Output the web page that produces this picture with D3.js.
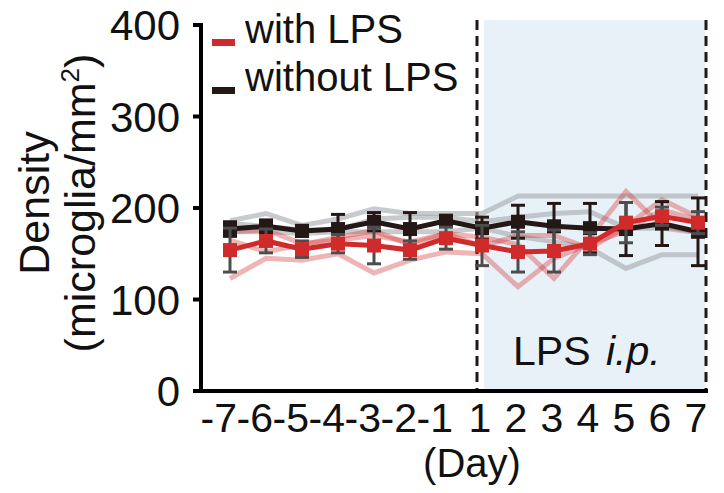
<!DOCTYPE html>
<html>
<head>
<meta charset="utf-8">
<script src="https://cdn.jsdelivr.net/npm/d3@7"></script>
<style>
  body { margin: 0; background: #fff; }
  text { font-family: "Liberation Sans", Arial, sans-serif; fill: #111; }
</style>
</head>
<body>
<script>
const WIDTH = 724
const HEIGHT = 493

// Data
const days = [-7, -6, -5, -4, -3, -2, -1, 1, 2, 3, 4, 5, 6, 7]
const yTicks = [0, 100, 200, 300, 400]

const withLPSMean = [154, 164, 155, 161, 159, 154, 167, 159, 152, 153, 161, 184, 191, 184]
const withLPSErr = [24, 13, 9, 10, 20, 10, 12, 22, 22, 23, 12, 22, 10, 12]
const withoutLPSMean = [177, 180, 175, 177, 185, 177, 186, 178, 185, 180, 178, 177, 183, 174]
const withoutLPSErr = [8, 7, 6, 16, 10, 18, 6, 12, 18, 25, 27, 29, 24, 37]

// individual animals
const withLPSA = [123, 145, 143, 150, 129, 143, 152, 150, 114, 145, 161, 175, 198, 187]
const withLPSB = [165, 152, 160, 168, 175, 160, 172, 168, 160, 123, 168, 218, 180, 174]
const withLPSC = [174, 176, 161, 165, 170, 163, 172, 158, 170, 170, 156, 180, 209, 190]
const withoutLPSA = [186, 194, 181, 188, 199, 194, 194, 194, 213, 213, 213, 213, 213, 213]
const withoutLPSB = [183, 180, 176, 176, 188, 190, 190, 185, 190, 194, 196, 178, 178, 173]
const withoutLPSC = [174, 174, 172, 174, 174, 174, 174, 178, 169, 163, 156, 134, 149, 149]

const RED = "#d12a2a"
const BLACK = "#231815"

// SVG
const svg = d3.select("body")
    .append("svg")
    .attr("width", WIDTH)
    .attr("height", HEIGHT)

const x = d3.scalePoint().domain(days).range([230, 698])
const y = d3.scaleLinear().domain([0, 400]).range([391, 25])

// LPS window
svg.append("rect")
    .attr("x", x(1) + 2)
    .attr("y", y(400) - 5)
    .attr("width", x(7) + 7 - (x(1) + 2))
    .attr("height", y(0) - y(400) + 5)
    .attr("fill", "#e9f1f8")

svg.selectAll(".dash")
    .data([1, 7])
    .enter()
    .append("line")
    .attr("x1", d => d === 1 ? x(d) - 5 : x(d) + 8)
    .attr("x2", d => d === 1 ? x(d) - 5 : x(d) + 8)
    .attr("y1", y(400) - 5)
    .attr("y2", y(0))
    .attr("stroke", BLACK)
    .attr("stroke-width", 3)
    .attr("stroke-dasharray", "10,6")

svg.append("text")
    .attr("x", 513)
    .attr("y", 365)
    .attr("font-size", 41)
    .text("LPS")
svg.append("text")
    .attr("x", 606)
    .attr("y", 365)
    .attr("font-size", 41)
    .attr("font-style", "italic")
    .text("i.p.")

const line = d3.line()
    .x((d, i) => x(days[i]))
    .y(d => y(d))

// individual lines
const pale = svg.append("g")
pale.selectAll(".gray")
    .data([withoutLPSA, withoutLPSB, withoutLPSC])
    .enter()
    .append("path")
    .attr("d", line)
    .attr("fill", "none")
    .attr("stroke", "#a4a8ab")
    .attr("stroke-opacity", 0.6)
    .attr("stroke-width", 5)
pale.selectAll(".pink")
    .data([withLPSA, withLPSB, withLPSC])
    .enter()
    .append("path")
    .attr("d", line)
    .attr("fill", "none")
    .attr("stroke", RED)
    .attr("stroke-opacity", 0.35)
    .attr("stroke-width", 5)

// mean series with error bars
function drawSeries(mean, err, color, errColor) {
    const g = svg.append("g")
    const bars = g.selectAll(".err")
        .data(mean)
        .enter()
        .append("g")
    bars.append("line")
        .attr("x1", (d, i) => x(days[i]))
        .attr("x2", (d, i) => x(days[i]))
        .attr("y1", (d, i) => y(d + err[i]))
        .attr("y2", (d, i) => y(d - err[i]))
        .attr("stroke", errColor)
        .attr("stroke-width", 3)
    bars.append("line")
        .attr("x1", (d, i) => x(days[i]) - 7)
        .attr("x2", (d, i) => x(days[i]) + 7)
        .attr("y1", (d, i) => y(d + err[i]))
        .attr("y2", (d, i) => y(d + err[i]))
        .attr("stroke", errColor)
        .attr("stroke-width", 3)
    bars.append("line")
        .attr("x1", (d, i) => x(days[i]) - 7)
        .attr("x2", (d, i) => x(days[i]) + 7)
        .attr("y1", (d, i) => y(d - err[i]))
        .attr("y2", (d, i) => y(d - err[i]))
        .attr("stroke", errColor)
        .attr("stroke-width", 3)
    g.append("path")
        .attr("d", line(mean))
        .attr("fill", "none")
        .attr("stroke", color)
        .attr("stroke-width", 5)
    g.selectAll("rect")
        .data(mean)
        .enter()
        .append("rect")
        .attr("x", (d, i) => x(days[i]) - 7)
        .attr("y", d => y(d) - 7)
        .attr("width", 14)
        .attr("height", 14)
        .attr("fill", color)
}

drawSeries(withoutLPSMean, withoutLPSErr, BLACK, BLACK)
drawSeries(withLPSMean, withLPSErr, RED, "#4d4d4d")

// Axes
svg.append("line")
    .attr("x1", 201).attr("x2", 201)
    .attr("y1", y(400) - 2).attr("y2", y(0) + 2)
    .attr("stroke", "#000").attr("stroke-width", 4)
svg.append("line")
    .attr("x1", 199).attr("x2", 708)
    .attr("y1", y(0)).attr("y2", y(0))
    .attr("stroke", "#000").attr("stroke-width", 4)

svg.selectAll(".ytick")
    .data(yTicks)
    .enter()
    .append("line")
    .attr("x1", 193).attr("x2", 201)
    .attr("y1", d => y(d)).attr("y2", d => y(d))
    .attr("stroke", "#000").attr("stroke-width", 4)

svg.selectAll(".ylab")
    .data(yTicks)
    .enter()
    .append("text")
    .attr("x", 180)
    .attr("y", d => y(d))
    .attr("dy", "0.36em")
    .attr("text-anchor", "end")
    .attr("font-size", 42)
    .text(d => d)

svg.selectAll(".xlab")
    .data(days)
    .enter()
    .append("text")
    .attr("x", d => d < 0 ? x(d) + 7 : x(d) - 2)
    .attr("y", 432)
    .attr("text-anchor", d => d < 0 ? "end" : "middle")
    .attr("font-size", 41)
    .text(d => d)

svg.append("text")
    .attr("x", 472)
    .attr("y", 477)
    .attr("text-anchor", "middle")
    .attr("font-size", 40)
    .text("(Day)")

// Y title
const yt = svg.append("text")
    .attr("transform", "translate(0,203) rotate(-90)")
    .attr("text-anchor", "middle")
    .attr("font-size", 43)
yt.append("tspan").attr("x", 0).attr("y", 49).text("Density")
const t2 = yt.append("tspan").attr("x", 0).attr("y", 95).text("(microglia/mm")
t2.append("tspan").attr("font-size", 26).attr("dy", -16).text("2")
t2.append("tspan").attr("dy", 16).text(")")

// Legend
const legend = [["with LPS", RED, 43], ["without LPS", BLACK, 91]]
const lg = svg.selectAll(".legend")
    .data(legend)
    .enter()
    .append("g")
lg.append("rect")
    .attr("x", 212)
    .attr("y", d => d[2] - 4)
    .attr("width", 23)
    .attr("height", 7)
    .attr("fill", d => d[1])
lg.append("text")
    .attr("x", 245)
    .attr("y", d => d[2])
    .attr("font-size", 40)
    .text(d => d[0])
</script>
</body>
</html>
